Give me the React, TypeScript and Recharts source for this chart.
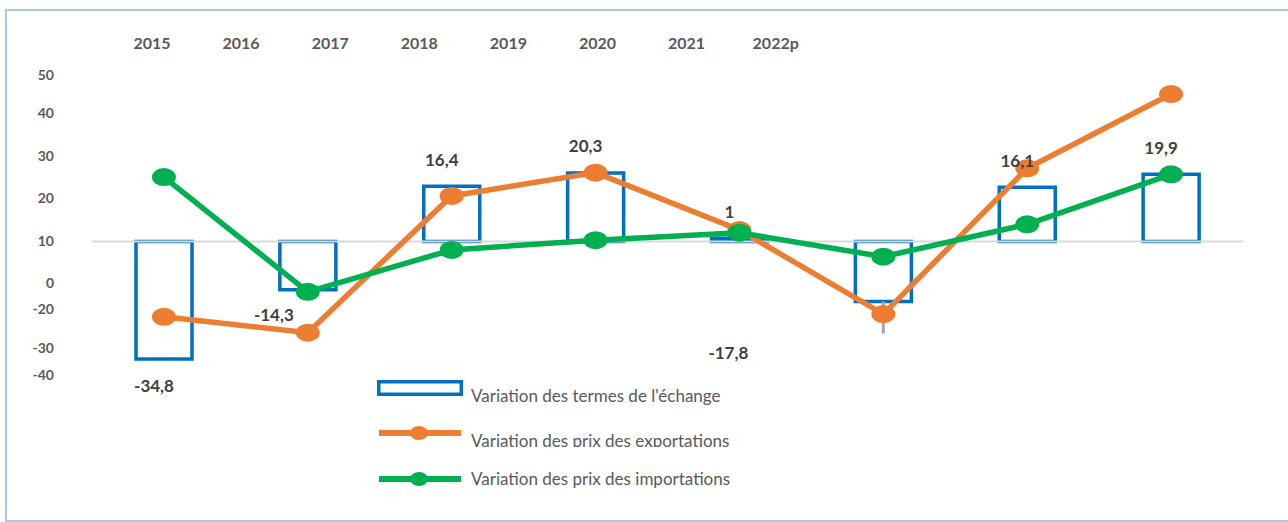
import React from 'react';
import {
  ComposedChart,
  Bar,
  Line,
  XAxis,
  YAxis,
  ReferenceLine,
  ErrorBar,
  LabelList,
  Legend
} from 'recharts';

const annees = ['2015', '2016', '2017', '2018', '2019', '2020', '2021', '2022p'];
const termesEchange = [-34.8, -14.3, 16.4, 20.3, 1, -17.8, 16.1, 19.9];
const prixExportations = [-22.3, -27.0, 13.5, 20.4, 3.4, -21.5, 21.7, 43.7];
const prixImportations = [19.1, -14.9, -2.5, 0.4, 2.6, -4.5, 5.1, 19.9];
const ecartTermes = [null, null, null, null, null, [9.5, 0], null, null];

// the y labels of the original sit at odd places, so they are placed by value
const yTickValeurs = [49.3, 38, 25.3, 12.8, 0, -12.2, -20.1, -31.6, -39.6];
const yTickLibelles = ['50', '40', '30', '20', '10', '0', '-20', '-30', '-40'];

const BLEU = '#0070C0';
const ORANGE = '#ED7D31';
const VERT = '#00B050';
const GRIS_TEXTE = '#595959';
const FONT = 'Lato, "Open Sans", sans-serif';

// hand-moved data labels in the original chart (dx, dy)
const labelNudge: [number, number][] = [
  [0, 0], [-24, -2], [0, 0], [0, 0], [0, 0], [-145, 24], [0, 0], [0, 0]
];

const data = annees.map((annee, i) => ({
  annee,
  termes: termesEchange[i],
  exportations: prixExportations[i],
  importations: prixImportations[i],
  ecart: ecartTermes[i]
}));

const ellipseDot = (color: string) => (props: any) => {
  const { cx, cy, index } = props;
  if (cx == null || cy == null) return <g key={`dot-${color}-${index}`} />;
  return <ellipse key={`dot-${color}-${index}`} cx={cx} cy={cy} rx={12} ry={9} fill={color} />;
};

const renderTermesLabel = (props: any) => {
  const vb = props.viewBox ?? props;
  const { x, y, width, height } = vb;
  const { value, index } = props;
  if (x == null || value == null) return null;
  const top = Math.min(y, y + height);
  const bottom = Math.max(y, y + height);
  const [dx, dy] = labelNudge[index] ?? [0, 0];
  const cx = x + width / 2 - 10 + dx;
  const cy = (value >= 0 ? top - 27 : bottom + 27) + dy;
  return (
    <text
      key={`lbl-${index}`}
      x={cx}
      y={cy}
      textAnchor="middle"
      dominantBaseline="central"
      fill="#404040"
      fontSize={17}
      fontWeight={700}
      fontFamily={FONT}
    >
      {String(value).replace('.', ',')}
    </text>
  );
};

const legendText: React.CSSProperties = {
  position: 'absolute',
  left: 471,
  fontSize: 17,
  lineHeight: '20px',
  color: GRIS_TEXTE,
  fontFamily: FONT,
  whiteSpace: 'nowrap',
  overflow: 'hidden'
};

const renderLegende = () => (
  <div>
    <svg
      width={1288}
      height={522}
      style={{ position: 'absolute', left: 0, top: 0, pointerEvents: 'none' }}
    >
      <rect x={378.75} y={381.75} width={82.5} height={12.5} fill="none" stroke={BLEU} strokeWidth={3.5} />
      <line x1={379} y1={433} x2={461} y2={433} stroke={ORANGE} strokeWidth={6} />
      <ellipse cx={419} cy={433} rx={9} ry={7} fill={ORANGE} />
      <line x1={379} y1={479} x2={461} y2={479} stroke={VERT} strokeWidth={6} />
      <ellipse cx={419} cy={479} rx={9} ry={7} fill={VERT} />
    </svg>
    <div style={{ ...legendText, top: 385.5 }}>Variation des termes de l'échange</div>
    <div style={{ ...legendText, top: 431, height: 16 }}>Variation des prix des exportations</div>
    <div style={{ ...legendText, top: 468.5 }}>Variation des prix des importations</div>
  </div>
);

export default function App() {
  return (
    <div
      style={{
        position: 'absolute',
        left: 0,
        top: 0,
        width: 1288,
        height: 522,
        background: '#ffffff',
        overflow: 'hidden'
      }}
    >
      <div
        style={{
          position: 'absolute',
          left: 5,
          top: 9,
          width: 1300,
          height: 513,
          border: '2px solid #A9C9EC',
          boxSizing: 'border-box'
        }}
      />
      <div style={{ position: 'absolute', left: 0, top: 0 }}>
        <ComposedChart
          width={1288}
          height={522}
          data={data}
          margin={{ top: 25.875, right: 45, bottom: 128.625, left: 32 }}
        >
          <XAxis xAxisId="main" dataKey="annee" hide />
          <XAxis
            xAxisId="top"
            dataKey="annee"
            orientation="top"
            height={30}
            axisLine={false}
            tickLine={false}
            tickSize={0}
            tickMargin={7}
            interval={0}
            padding={{ left: 15.45, right: 422.75 }}
            tick={{ fill: GRIS_TEXTE, fontSize: 16, fontWeight: 700, fontFamily: FONT }}
          />
          <YAxis
            type="number"
            domain={[-45, 55]}
            ticks={yTickValeurs}
            interval={0}
            width={60}
            axisLine={false}
            tickLine={false}
            tickSize={0}
            tickMargin={38}
            tickFormatter={(v: number) => yTickLibelles[yTickValeurs.indexOf(v)] ?? ''}
            tick={{ fill: GRIS_TEXTE, fontSize: 14, fontWeight: 700, fontFamily: FONT }}
          />
          <ReferenceLine xAxisId="main" y={0} stroke="#D9D9D9" strokeWidth={2} />
          <Legend content={renderLegende} wrapperStyle={{ left: 0, top: 0, width: 0, height: 0, overflow: 'visible' }} />
          <Bar
            xAxisId="main"
            dataKey="termes"
            name="Variation des termes de l'échange"
            fill="none"
            stroke={BLEU}
            strokeWidth={3.5}
            barSize={56}
            isAnimationActive={false}
          >
            <LabelList dataKey="termes" content={renderTermesLabel} />
          </Bar>
          <Line
            xAxisId="main"
            dataKey="exportations"
            name="Variation des prix des exportations"
            stroke={ORANGE}
            strokeWidth={5.5}
            dot={ellipseDot(ORANGE)}
            activeDot={false}
            isAnimationActive={false}
          />
          <Line
            xAxisId="main"
            dataKey="importations"
            name="Variation des prix des importations"
            stroke={VERT}
            strokeWidth={5.5}
            dot={ellipseDot(VERT)}
            activeDot={false}
            isAnimationActive={false}
          />
          <Line
            xAxisId="main"
            dataKey="termes"
            stroke="none"
            dot={false}
            activeDot={false}
            legendType="none"
            isAnimationActive={false}
          >
            <ErrorBar dataKey="ecart" direction="y" width={0} stroke="#A6A6A6" strokeWidth={3} />
          </Line>
        </ComposedChart>
      </div>
    </div>
  );
}
